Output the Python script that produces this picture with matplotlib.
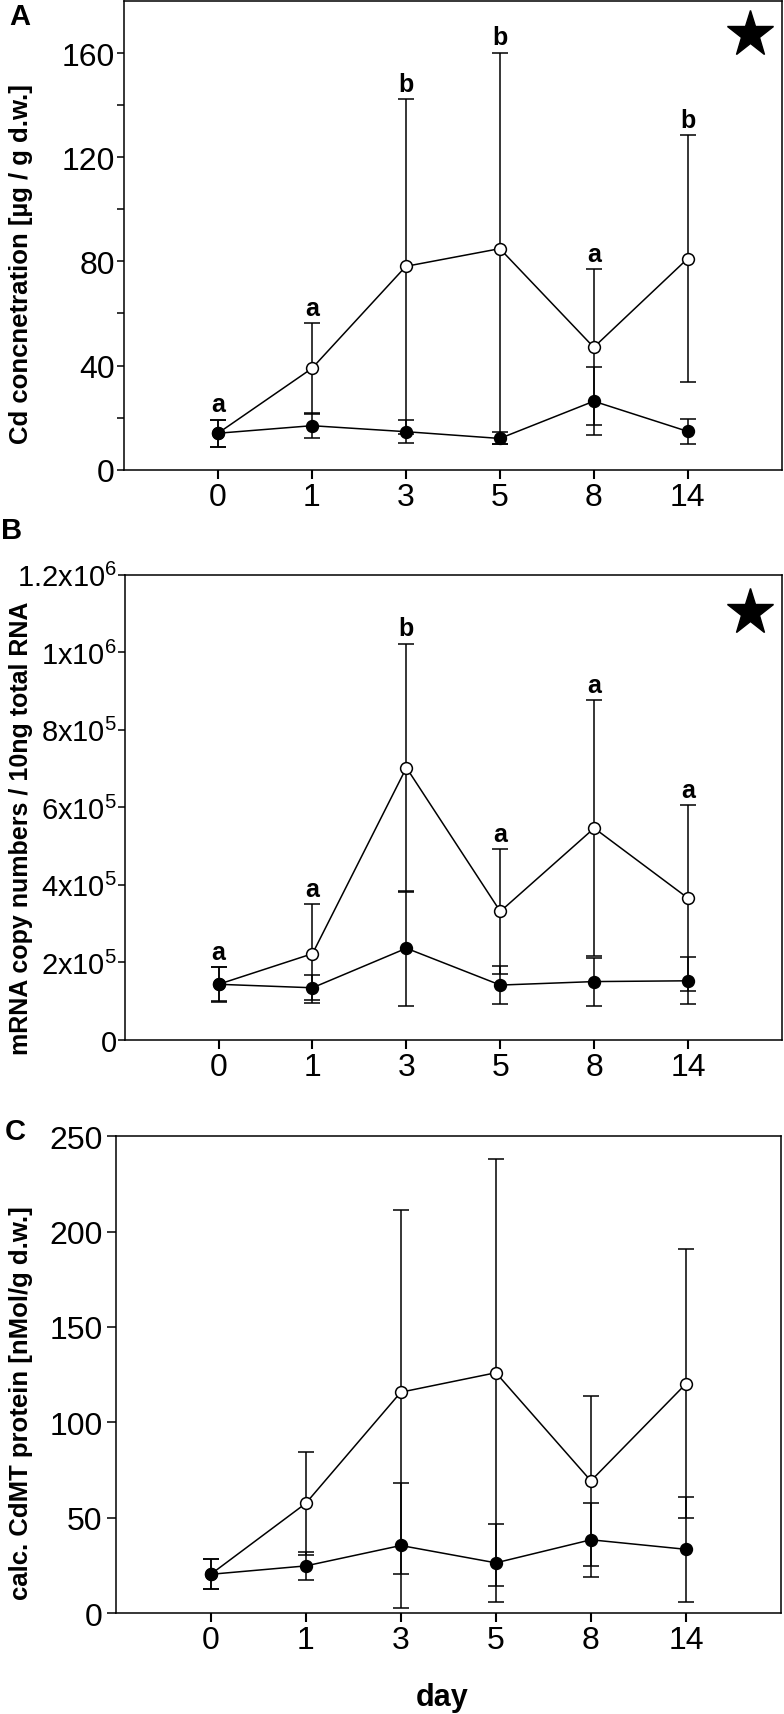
import matplotlib
matplotlib.use("Agg")
import matplotlib.pyplot as plt
from matplotlib.ticker import MultipleLocator, FixedLocator

plt.rcParams['font.family'] = ['Liberation Sans', 'DejaVu Sans']
plt.rcParams['mathtext.fontset'] = 'custom'
plt.rcParams['mathtext.rm'] = 'Liberation Sans'
plt.rcParams['mathtext.it'] = 'Liberation Sans:italic'
plt.rcParams['mathtext.bf'] = 'Liberation Sans:bold'
plt.rcParams['mathtext.default'] = 'regular'

# ---------------- data ----------------
days = ['0', '1', '3', '5', '8', '14']

cd_open_mean = [14.0, 38.9, 78.1, 84.9, 47.0, 81.1]
cd_open_sd = [5.2, 17.5, 64.3, 75.2, 30.0, 47.5]
cd_filled_mean = [14.0, 16.9, 14.6, 12.0, 26.3, 14.7]
cd_filled_sd = [5.2, 4.7, 4.5, 2.3, 13.0, 4.9]
cd_letters = ['a', 'a', 'b', 'b', 'a', 'b']

mrna_open_mean = [1.43e5, 2.22e5, 7.02e5, 3.31e5, 5.46e5, 3.65e5]
mrna_open_sd = [0.44e5, 1.28e5, 3.20e5, 1.61e5, 3.30e5, 2.40e5]
mrna_filled_mean = [1.43e5, 1.34e5, 2.36e5, 1.41e5, 1.50e5, 1.52e5]
mrna_filled_sd = [0.45e5, 0.32e5, 1.48e5, 0.50e5, 0.62e5, 0.61e5]
mrna_letters = ['a', 'a', 'b', 'a', 'a', 'a']
mrna_ticks = [0, 2e5, 4e5, 6e5, 8e5, 1e6, 1.2e6]
mrna_ticklabels = ['0', '2x10$^{5}$', '4x10$^{5}$', '6x10$^{5}$', '8x10$^{5}$',
                   '1x10$^{6}$', '1.2x10$^{6}$']

prot_open_mean = [20.3, 57.5, 115.8, 126.0, 69.3, 120.2]
prot_open_sd = [7.8, 27.0, 95.4, 111.9, 44.4, 70.5]
prot_filled_mean = [20.3, 24.7, 35.4, 26.3, 38.4, 33.4]
prot_filled_sd = [7.8, 7.5, 33.0, 20.4, 19.4, 27.5]

# ---------------- figure ----------------
W, H = 784, 1715
fig = plt.figure(figsize=(W / 100, H / 100), dpi=100)


def px_axes(left, top, right, bottom):
    return fig.add_axes([left / W, 1 - bottom / H, (right - left) / W, (bottom - top) / H])


axA = px_axes(124, 2, 781.7, 470.7)
axB = px_axes(124.7, 575.7, 782, 1040.7)
axC = px_axes(115.7, 1137.3, 781, 1614)

x = list(range(len(days)))


def draw(ax, om, osd, fm, fsd):
    ax.errorbar(x, om, yerr=osd, fmt='-o', color='black', mfc='white', mec='black',
                ms=8.5, mew=1.1, lw=1.1, elinewidth=1.1, capsize=5.5, capthick=1.2,
                zorder=3, clip_on=False)
    ax.errorbar(x, fm, yerr=fsd, fmt='-o', color='black', mfc='black', mec='black',
                ms=8.5, mew=1.1, lw=1.1, elinewidth=1.1, capsize=5.5, capthick=1.2,
                zorder=4, clip_on=False)
    ax.set_xlim(-1, 6)
    ax.set_xticks(x)
    ax.set_xticklabels(days, fontsize=23)
    ax.tick_params(axis='x', direction='out', length=6.5, width=1.5, pad=2)
    ax.tick_params(axis='y', which='both', direction='out', length=5, width=1.1, pad=1.5)
    for s in ax.spines.values():
        s.set_linewidth(1.1)


def letters(ax, om, osd, fm, fsd, labs):
    for i, lab in enumerate(labs):
        top = max(om[i] + osd[i], fm[i] + fsd[i])
        ax.annotate(lab, (x[i], top), xytext=(0, 6), textcoords='offset points',
                    ha='center', va='baseline', fontsize=18, fontweight='bold')


# Panel A
draw(axA, cd_open_mean, cd_open_sd, cd_filled_mean, cd_filled_sd)
axA.set_ylim(0, 180)
axA.yaxis.set_major_locator(FixedLocator([0, 40, 80, 120, 160]))
axA.yaxis.set_minor_locator(FixedLocator([20, 60, 100, 140]))
axA.tick_params(axis='y', labelsize=23)
letters(axA, cd_open_mean, cd_open_sd, cd_filled_mean, cd_filled_sd, cd_letters)
axA.plot([0.952], [0.9287], marker='*', ms=35, color='black', transform=axA.transAxes,
         clip_on=False)

# Panel B
draw(axB, mrna_open_mean, mrna_open_sd, mrna_filled_mean, mrna_filled_sd)
axB.set_ylim(0, 1.2e6)
axB.set_yticks(mrna_ticks)
axB.set_yticklabels(mrna_ticklabels, fontsize=21)
axB.tick_params(axis='y', length=5, pad=0.5)
letters(axB, mrna_open_mean, mrna_open_sd, mrna_filled_mean, mrna_filled_sd, mrna_letters)
axB.plot([0.951], [0.919], marker='*', ms=35, color='black', transform=axB.transAxes,
         clip_on=False)

# Panel C
draw(axC, prot_open_mean, prot_open_sd, prot_filled_mean, prot_filled_sd)
axC.set_ylim(0, 250)
axC.yaxis.set_major_locator(MultipleLocator(50))
axC.tick_params(axis='y', labelsize=23, length=6.5, pad=3)

# axis labels
fig.text(21 / W, 1 - 264 / H, 'Cd concnetration [µg / g d.w.]', rotation=90,
         ha='center', va='center', fontsize=18.5, fontweight='bold')
fig.text(21 / W, 1 - 828 / H, 'mRNA copy numbers / 10ng total RNA', rotation=90,
         ha='center', va='center', fontsize=18, fontweight='bold')
fig.text(21 / W, 1 - 1403 / H, 'calc. CdMT protein [nMol/g d.w.]', rotation=90,
         ha='center', va='center', fontsize=18.5, fontweight='bold')
fig.text(442 / W, 1 - 1698 / H, 'day', ha='center', va='center', fontsize=22,
         fontweight='bold')

# panel letters
fig.text(20 / W, 1 - 17 / H, 'A', ha='center', va='center', fontsize=21, fontweight='bold')
fig.text(12 / W, 1 - 531 / H, 'B', ha='center', va='center', fontsize=21, fontweight='bold')
fig.text(15 / W, 1 - 1132 / H, 'C', ha='center', va='center', fontsize=21, fontweight='bold')

fig.savefig('out.png', dpi=100)
